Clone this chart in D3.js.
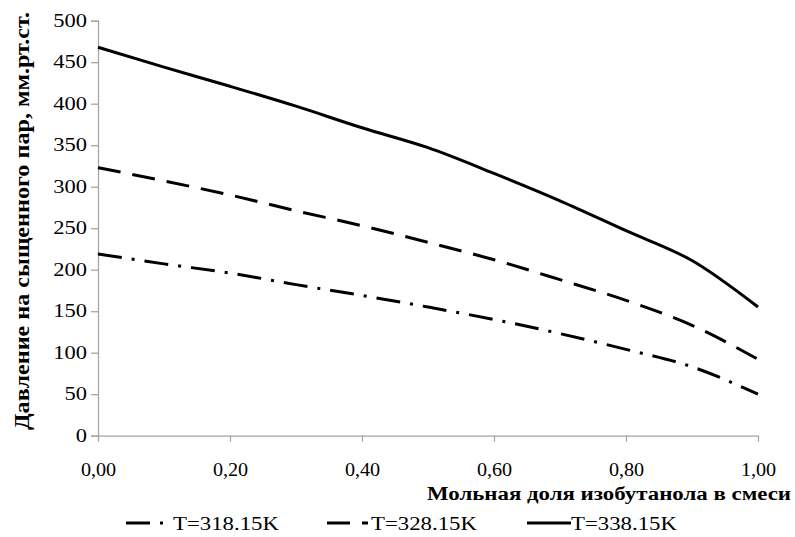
<!DOCTYPE html>
<html>
<head>
<meta charset="utf-8">
<script src="https://cdn.jsdelivr.net/npm/d3@7"></script>
<style>
  body { margin: 0; background: #fff; }
</style>
</head>
<body>
<div id="chart"></div>
<script>
// mole fraction of isobutanol
const xValues = [0, 0.1, 0.2, 0.3, 0.4, 0.5, 0.6, 0.7, 0.8, 0.9, 1.0];
// saturated vapour pressure, mm Hg
const p318 = [219, 207, 196, 182, 169, 155, 140, 123, 104, 83, 50];
const p328 = [323, 307, 290, 271, 253, 233, 212, 188, 163, 133, 92];
const p338 = [468, 444, 421, 397, 371, 347, 316, 283, 247, 211, 155];
const seriesNames = ['T=318.15K', 'T=328.15K', 'T=338.15K'];
const xTicks = [0, 0.2, 0.4, 0.6, 0.8, 1.0];
const yTicks = [0, 50, 100, 150, 200, 250, 300, 350, 400, 450, 500];

const width = 795;
const height = 537;
const FONT = "'Liberation Serif', 'Times New Roman', serif";

const series = [
  {name: seriesNames[0], values: p318, dash: '24,10,3,10'},
  {name: seriesNames[1], values: p328, dash: '23,12'},
  {name: seriesNames[2], values: p338, dash: null}
];

const svg = d3.select('#chart')
  .append('svg')
  .attr('width', width)
  .attr('height', height)
  .style('font-family', FONT);

const x = d3.scaleLinear().domain([0, 1]).range([98, 758]);
const y = d3.scaleLinear().domain([0, 500]).range([435.7, 20.7]);

const fmt = d => d3.format('.2f')(d).replace('.', ',');

// stretch text a bit sideways, like the picture
function widen(sel, k) {
  sel.each(function() {
    const w = this.getComputedTextLength();
    d3.select(this).attr('textLength', w * k).attr('lengthAdjust', 'spacingAndGlyphs');
  });
}

// y axis
const yAxis = svg.append('g')
  .attr('transform', 'translate(98,0)')
  .call(d3.axisLeft(y).tickValues(yTicks).tickSize(7).tickPadding(4));

// x axis
const xAxis = svg.append('g')
  .attr('transform', 'translate(0,435.7)')
  .call(d3.axisBottom(x).tickValues(xTicks).tickFormat(fmt).tickSize(6).tickSizeOuter(0).tickPadding(22));

svg.selectAll('g').attr('font-family', null).attr('font-size', 18);
svg.selectAll('.domain, .tick line').attr('stroke', '#a6a6a6').attr('stroke-width', 1.3);
yAxis.selectAll('text').call(widen, 1.25);
xAxis.selectAll('text').call(widen, 1.12);

// lines
const line = d3.line()
  .x((d, i) => x(xValues[i]))
  .y(d => y(d))
  .curve(d3.curveMonotoneX);

svg.selectAll('path.series')
  .data(series)
  .join('path')
  .attr('class', 'series')
  .attr('d', d => line(d.values))
  .attr('fill', 'none')
  .attr('stroke', '#000')
  .attr('stroke-width', 3)
  .attr('stroke-dasharray', d => d.dash);

// axis titles
svg.append('text')
  .attr('x', 791)
  .attr('y', 500)
  .attr('text-anchor', 'end')
  .attr('textLength', 364)
  .attr('lengthAdjust', 'spacingAndGlyphs')
  .style('font-size', '18px')
  .style('font-weight', 'bold')
  .text('Мольная доля изобутанола в смеси');

svg.append('text')
  .attr('transform', 'translate(29,221) rotate(-90)')
  .attr('text-anchor', 'middle')
  .attr('textLength', 418)
  .attr('lengthAdjust', 'spacingAndGlyphs')
  .style('font-size', '20px')
  .style('font-weight', 'bold')
  .text('Давление на сыщенного пар, мм.рт.ст.');

// legend
const legendX = [126, 327, 527];
const sampleLen = [38, 41, 44];
const legend = svg.selectAll('g.legend')
  .data(series)
  .join('g')
  .attr('class', 'legend')
  .attr('transform', (d, i) => `translate(${legendX[i]},523)`);

legend.append('line')
  .attr('x1', 0).attr('x2', (d, i) => sampleLen[i])
  .attr('y1', 0).attr('y2', 0)
  .attr('stroke', '#000')
  .attr('stroke-width', 3)
  .attr('stroke-dasharray', d => d.dash);

legend.append('text')
  .attr('x', (d, i) => [47, 44, 44][i])
  .attr('y', 6.5)
  .attr('textLength', 106)
  .attr('lengthAdjust', 'spacingAndGlyphs')
  .style('font-size', '18px')
  .text(d => d.name);
</script>
</body>
</html>
